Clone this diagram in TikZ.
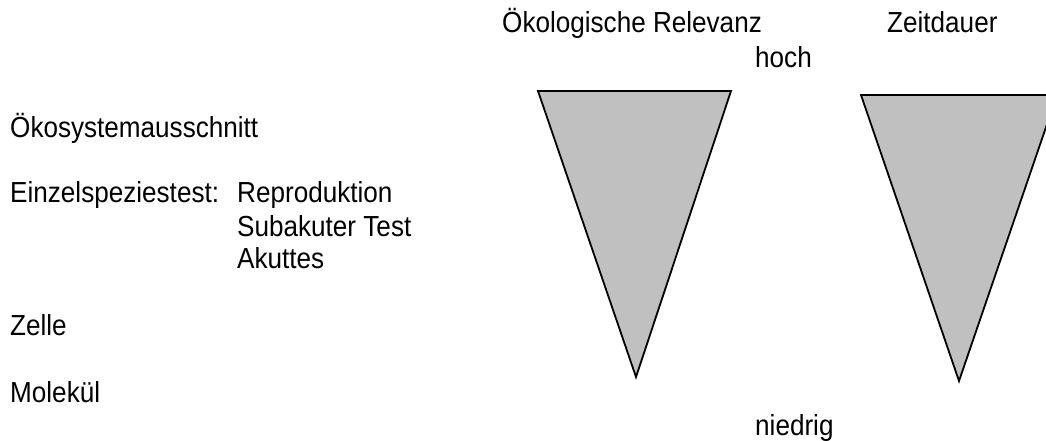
\documentclass[tikz,border=0pt]{standalone}
\usepackage{fontspec}
\setmainfont{Liberation Sans}[FakeStretch=0.9]
\usepackage{tikz}
\usetikzlibrary{positioning}
\definecolor{wedgegray}{RGB}{192, 192, 192}

\begin{document}
\begin{tikzpicture}[x=1pt, y=-1pt,
    lbl/.style={inner sep=0pt, anchor=base west, font=\fontsize{29}{34}\selectfont},
    wedge/.style={draw=black, line width=1.8pt, fill=wedgegray, line join=miter}]
        \useasboundingbox (0,0) rectangle (1046,441);
        % left column
        \node[lbl] (oeko) at (10,137) {Ökosystemausschnitt};
        \node[lbl] (einzel) at (10,202) {Einzelspeziestest:};
        \node[lbl] (repro) at (237,202) {Reproduktion};
        \node[lbl] (subak) at (237,236) {Subakuter Test};
        \node[lbl] (akut) at (237,268) {Akuttes};
        \node[lbl] (zelle) at (10,335) {Zelle};
        \node[lbl] (molek) at (10,402) {Molekül};
        % headings
        \node[lbl] (relevanz) at (502,33) {Ökologische Relevanz};
        \node[lbl] (zeit) at (887,33) {Zeitdauer};
        \node[lbl] (hoch) at (755,68) {hoch};
        \node[lbl] (niedrig) at (755,435) {niedrig};
        % wedges
        \draw[wedge] (538,91) -- (731,91) -- (636,377) -- cycle;
        \draw[wedge] (861,95) -- (1057,95) -- (959,381) -- cycle;
    \end{tikzpicture}
\end{document}
